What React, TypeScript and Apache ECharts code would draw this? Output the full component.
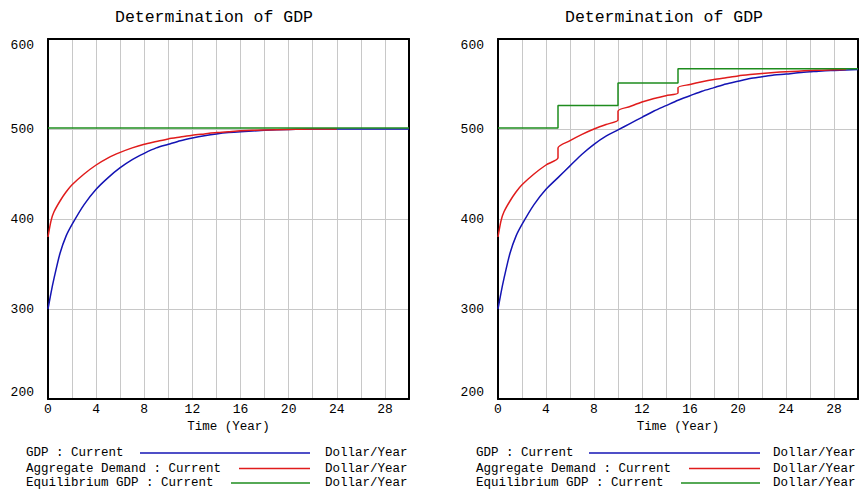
import React, { useEffect, useRef } from "react";
import * as echarts from "echarts";

// ---------- data ----------
// Left panel
const gdpTimeA = [0, 0.25, 0.5, 1, 1.5, 2, 3, 4, 5, 6, 7, 8, 9, 10, 11, 12, 13, 14, 15, 16, 18, 20, 22, 24, 26, 28, 30];
const gdpA = [300, 318, 334, 362, 381, 394, 416, 433, 446, 457, 466, 473, 479, 483, 487, 490, 492.5, 494.5, 496, 497, 498.5, 499.5, 500, 500, 500, 500, 500];
const demTimeA = [0, 0.25, 0.5, 1, 1.5, 2, 3, 4, 5, 6, 7, 8, 9, 10, 11, 12, 13, 14, 15, 16, 18, 20, 22, 24];
const demA = [380, 398, 408, 420, 430, 438, 450, 460, 468, 474, 479, 483, 486, 489, 491, 493, 494.5, 496, 497, 498, 499, 499.5, 500, 500];
const eqTimeA = [0, 30];
const eqA = [501, 501];

// Right panel
const gdpTimeB = [0, 0.25, 0.5, 1, 1.5, 2, 3, 4, 5, 6, 7, 8, 9, 10, 11, 12, 13, 14, 15, 16, 17, 18, 19, 20, 21, 22, 23, 24, 25, 26, 27, 28, 29, 30];
const gdpB = [300, 318, 334, 362, 381, 394, 416, 433, 446, 459, 472, 483, 492, 499, 506, 513, 520, 526, 532, 537, 542, 546, 550, 553, 556, 558, 560, 561, 562.5, 563.5, 564.5, 565, 565.5, 566];
const demTimeB = [0, 0.25, 0.5, 1, 1.5, 2, 3, 4, 5, 5, 6, 7, 8, 9, 10, 10, 11, 12, 13, 14, 15, 15, 16, 17, 18, 19, 20, 21, 22, 23, 24, 25, 26, 27, 28, 29];
const demB = [380, 398, 408, 420, 430, 438, 450, 460, 468, 479, 487, 494, 500, 505, 510, 520, 525, 530, 534, 537, 540, 546, 549.5, 552.5, 555, 557, 559, 560.5, 561.8, 562.8, 563.6, 564.3, 564.9, 565.4, 565.8, 566];
const eqTimeB = [0, 5, 10, 15, 30];
const eqB = [501, 526, 551, 567, 567];

const xTicksShown = [0, 4, 8, 12, 16, 20, 24, 28];
const chartTitle = "Determination of GDP";
const xAxisName = "Time (Year)";
const legendNames = ["GDP : Current", "Aggregate Demand : Current", "Equilibrium GDP : Current"];
const unitText = "Dollar/Year";

// ---------- styling ----------
const FONT = "'Liberation Mono', 'DejaVu Sans Mono', monospace";
const BLUE = "#1414b4";
const RED = "#e01c1c";
const GREEN = "#1e8c1e";
const GRIDC = "#c8c8c8";

const zip = (xs: number[], ys: number[]) => xs.map((x, i) => [x, ys[i]]);

export default function App() {
  const ref = useRef<HTMLDivElement>(null);

  useEffect(() => {
    if (!ref.current) return;
    const chart = echarts.init(ref.current, null, { renderer: "svg" });

    const grids = [
      { left: 48, top: 39, width: 361, height: 360 },
      { left: 498, top: 39, width: 361, height: 360 },
    ];

    const xAxes: any[] = [];
    const yAxes: any[] = [];
    grids.forEach((_, gi) => {
      xAxes.push({
        type: "value",
        gridIndex: gi,
        min: 0,
        max: 30,
        interval: 2,
        position: "bottom",
        axisLine: { show: true, onZero: false, lineStyle: { color: "#000", width: 2 } },
        axisTick: { show: false },
        axisLabel: {
          color: "#000",
          fontFamily: FONT,
          fontSize: 13,
          margin: 4,
          formatter: (v: number) => (xTicksShown.includes(v) ? String(v) : ""),
        },
        splitLine: { show: true, showMinLine: false, showMaxLine: false, lineStyle: { color: GRIDC, width: 1 } },
        name: xAxisName,
        nameLocation: "middle",
        nameGap: 21,
        nameTextStyle: { color: "#000", fontFamily: FONT, fontSize: 12.5 },
      });
      xAxes.push({
        type: "value",
        gridIndex: gi,
        min: 0,
        max: 30,
        position: "top",
        axisLine: { show: true, onZero: false, lineStyle: { color: "#000", width: 2 } },
        axisTick: { show: false },
        axisLabel: { show: false },
        splitLine: { show: false },
      });
      yAxes.push({
        type: "value",
        gridIndex: gi,
        min: 200,
        max: 600,
        interval: 100,
        position: "left",
        axisLine: { show: true, onZero: false, lineStyle: { color: "#000", width: 2 } },
        axisTick: { show: false },
        axisLabel: {
          color: "#000",
          fontFamily: FONT,
          fontSize: 13,
          margin: 14,
          verticalAlignMaxLabel: "top",
          verticalAlignMinLabel: "bottom",
        },
        splitLine: { show: true, showMinLine: false, showMaxLine: false, lineStyle: { color: GRIDC, width: 1 } },
      });
      yAxes.push({
        type: "value",
        gridIndex: gi,
        min: 200,
        max: 600,
        position: "right",
        axisLine: { show: true, onZero: false, lineStyle: { color: "#000", width: 2 } },
        axisTick: { show: false },
        axisLabel: { show: false },
        splitLine: { show: false },
      });
    });

    const lineSeries = (name: string, data: number[][], color: string, gi: number, extra: any = {}) => ({
      type: "line",
      name,
      data,
      xAxisIndex: gi * 2,
      yAxisIndex: gi * 2,
      showSymbol: false,
      symbol: "none",
      lineStyle: { color, width: 1.5 },
      itemStyle: { color },
      ...extra,
    });

    const smooth = { smooth: 0.25 };

    const series = [
      lineSeries(legendNames[0], zip(gdpTimeA, gdpA), BLUE, 0, smooth),
      lineSeries(legendNames[1], zip(demTimeA, demA), RED, 0, smooth),
      lineSeries(legendNames[2], zip(eqTimeA, eqA), GREEN, 0),
      lineSeries(legendNames[0], zip(gdpTimeB, gdpB), BLUE, 1, smooth),
      lineSeries(legendNames[1], zip(demTimeB, demB), RED, 1, smooth),
      lineSeries(legendNames[2], zip(eqTimeB, eqB), GREEN, 1, { step: "end" }),
    ];

    // Titles and legends
    const graphic: any[] = [];
    const titleCenters = [214, 664];
    titleCenters.forEach((cx) => {
      graphic.push({
        type: "text",
        x: cx,
        y: 17,
        style: { text: chartTitle, font: `16.5px ${FONT}`, fill: "#000", align: "center", verticalAlign: "middle" },
      });
    });
    const legendRows = [453, 468.5, 483];
    const legendColors = [BLUE, RED, GREEN];
    const panels = [
      { textX: 26, lineStarts: [140, 239, 231], lineEnd: 310, unitX: 325 },
      { textX: 476, lineStarts: [589, 689, 681], lineEnd: 760, unitX: 773 },
    ];
    panels.forEach((p) => {
      legendRows.forEach((ry, i) => {
        graphic.push({
          type: "text",
          x: p.textX,
          y: ry,
          style: { text: legendNames[i], font: `12.5px ${FONT}`, fill: "#000", align: "left", verticalAlign: "middle" },
        });
        graphic.push({
          type: "line",
          shape: { x1: p.lineStarts[i], y1: ry, x2: p.lineEnd, y2: ry },
          style: { stroke: legendColors[i], lineWidth: 1.5 },
        });
        graphic.push({
          type: "text",
          x: p.unitX,
          y: ry,
          style: { text: unitText, font: `12.5px ${FONT}`, fill: "#000", align: "left", verticalAlign: "middle" },
        });
      });
    });

    chart.setOption({
      animation: false,
      backgroundColor: "#fff",
      grid: grids,
      xAxis: xAxes,
      yAxis: yAxes,
      series,
      graphic,
    });

    return () => chart.dispose();
  }, []);

  return (
    <div
      ref={ref}
      style={{ position: "fixed", left: 0, top: 0, width: 861, height: 495, background: "#fff" }}
    />
  );
}
